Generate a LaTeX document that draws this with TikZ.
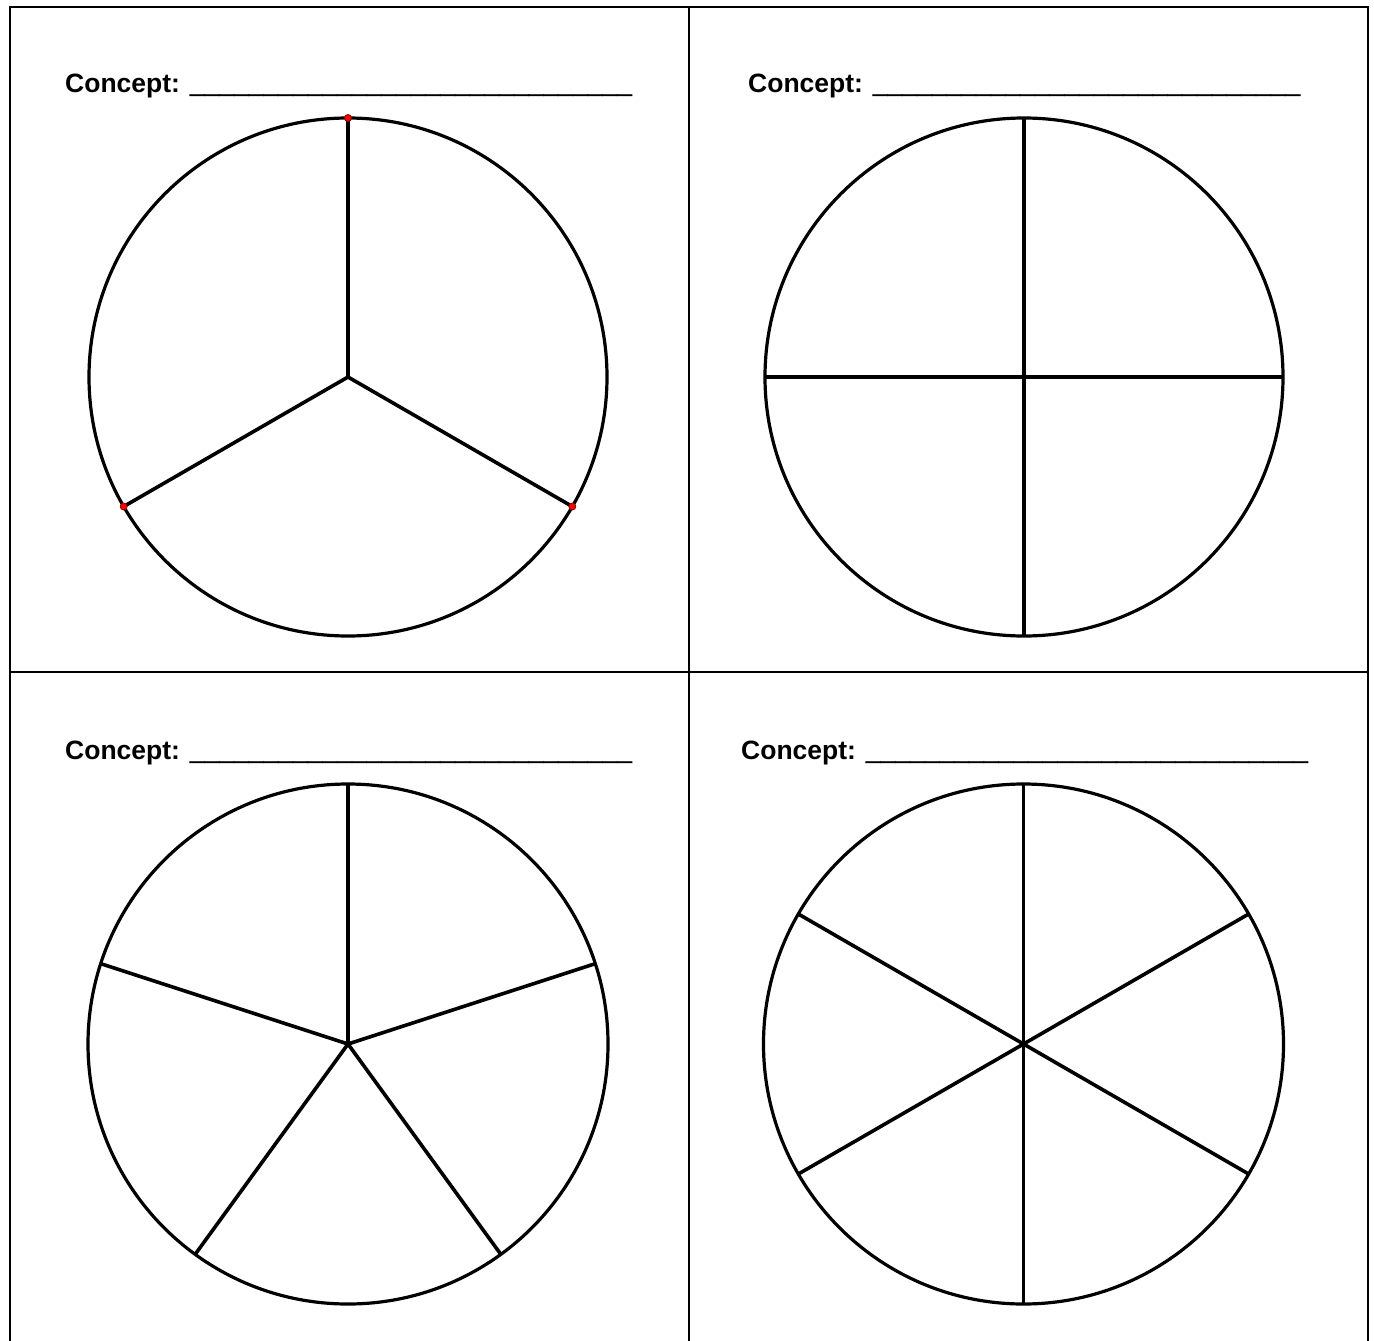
\documentclass[tikz,border=0pt]{standalone}
\usepackage{fontspec}
\setmainfont{Liberation Sans}
\newfontfamily\blankfont[FakeBold=2.5]{Liberation Sans Bold}
\newcommand\myblank[1]{{\blankfont\foreach \k in {1,...,#1}{\_}}}
\begin{document}
\begin{tikzpicture}[x=1pt,y=-1pt,
  frame/.style={line width=2.1pt},
  wheel/.style={line width=3.2pt},
  spoke/.style={line width=3.6pt},
  reddot/.style={fill=red, draw=red!55!black, line width=0.8pt},
  concept/.style={anchor=base west, inner sep=0pt, font=\bfseries\fontsize{26.5}{30}\selectfont}]
\useasboundingbox (0,0) rectangle (1374,1341);
% table frame
\coordinate (tl) at (10,7);
\coordinate (tr) at (1368,7);
\coordinate (bl) at (10,1345);
\coordinate (br) at (1368,1345);
\coordinate (mt) at (689,7);
\coordinate (mb) at (689,1345);
\coordinate (ml) at (10,672);
\coordinate (mr) at (1368,672);
\draw[frame] (bl) -- (tl) -- (tr) -- (br);
\draw[frame] (mt) -- (mb);
\draw[frame] (ml) -- (mr);
% titles
\node[concept] (t1) at (65,92.5) {Concept: \myblank{30}};
\node[concept] (t2) at (748,92.5) {Concept: \myblank{29}};
\node[concept] (t3) at (65,759.5) {Concept: \myblank{30}};
\node[concept] (t4) at (741,759.5) {Concept: \myblank{30}};
% circle 1: thirds
\coordinate (c1) at (348,377);
\draw[wheel] (c1) circle[radius=259];
\foreach \a [count=\i] in {90,210,330} {
  \coordinate (p1\i) at ([shift={(c1)}]-\a:259);
  \draw[spoke] (c1) -- (p1\i);
}
\foreach \i in {1,2,3} \filldraw[reddot] (p1\i) circle[radius=3.5];
% circle 2: quarters
\coordinate (c2) at (1024,377);
\draw[wheel] (c2) circle[radius=259];
\foreach \a [count=\i] in {0,90,180,270} {
  \coordinate (p2\i) at ([shift={(c2)}]-\a:259);
  \draw[spoke] (c2) -- (p2\i);
}
% circle 3: fifths
\coordinate (c3) at (348,1044);
\draw[wheel] (c3) circle[radius=260];
\foreach \a [count=\i] in {90,162,234,306,18} {
  \coordinate (p3\i) at ([shift={(c3)}]-\a:260);
  \draw[spoke] (c3) -- (p3\i);
}
% circle 4: sixths
\coordinate (c4) at (1023.5,1044);
\draw[wheel] (c4) circle[radius=260];
\foreach \a [count=\i] in {90,150,210,270,330,30} {
  \coordinate (p4\i) at ([shift={(c4)}]-\a:260);
  \draw[spoke] (c4) -- (p4\i);
}
\end{tikzpicture}
\end{document}
